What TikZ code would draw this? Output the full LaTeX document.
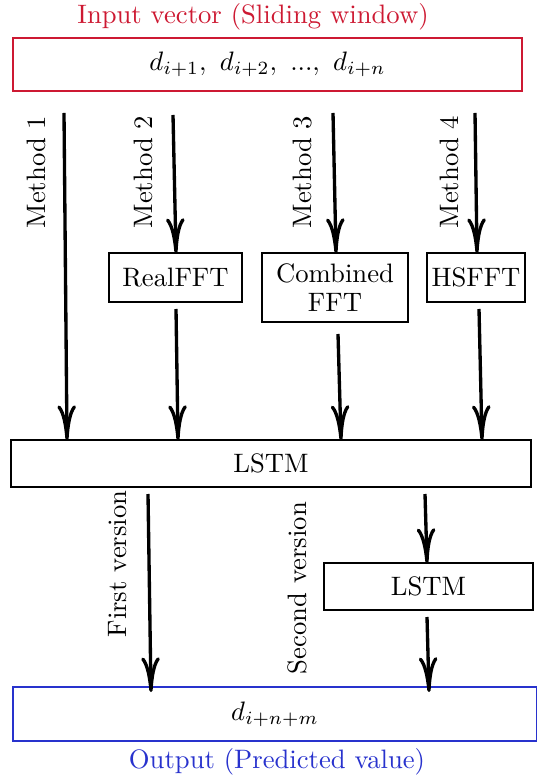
\documentclass[tikz,border=0pt]{standalone}
\usetikzlibrary{arrows.meta}
\definecolor{inred}{RGB}{205,25,50}
\definecolor{outblue}{RGB}{40,50,205}
\begin{document}
\begin{tikzpicture}[x=0.375pt,y=-0.375pt,
  box/.style={draw,line width=0.75pt,inner sep=0pt,outer sep=0pt,align=center},
  arr/.style={line width=1.25pt,-{Computer Modern Rightarrow[length=13pt,width=7pt,line width=1.25pt]}},
  lab/.style={rotate=90,inner sep=0pt}]
\useasboundingbox (0,0) rectangle (537,779);
% boxes
\node[box,draw=inred,minimum width=190.9pt,minimum height=19.9pt] (in) at (267.5,64.5) {$d_{i+1},\ d_{i+2},\ ...,\ d_{i+n}$};
\node[text=inred,inner sep=0pt] (inlab) at (253,17) {Input vector (Sliding window)};
\node[box,minimum width=49.9pt,minimum height=18.4pt] (real) at (175.5,277.5) {RealFFT};
\node[box,minimum width=54.75pt,minimum height=25.9pt] (comb) at (335,287.5) {Combined\\[-1pt]FFT};
\node[box,minimum width=36.75pt,minimum height=18.4pt] (hs) at (476,277.5) {HSFFT};
\node[box,minimum width=195pt,minimum height=17.6pt] (lstm) at (271,463.5) {LSTM};
\node[box,minimum width=78.4pt,minimum height=17.6pt] (lstm2) at (428.5,586.5) {LSTM};
\node[box,draw=outblue,minimum width=196.5pt,minimum height=20.25pt] (out) at (275,714) {$d_{i+n+m}$};
\node[text=outblue,inner sep=0pt] (outlab) at (277,762) {Output (Predicted value)};
% labels
\node[lab] (m1) at (36,172) {Method 1};
\node[lab] (m2) at (143,172) {Method 2};
\node[lab] (m3) at (303,172) {Method 3};
\node[lab] (m4) at (449,172) {Method 4};
\node[lab] (v1) at (118,564) {First version};
\node[lab] (v2) at (297,588) {Second version};
% coordinates
\coordinate (a1s) at (64,113);   \coordinate (a1e) at (67,440);
\coordinate (a2s) at (173,115);  \coordinate (a2e) at (176,253);
\coordinate (a3s) at (333,113);  \coordinate (a3e) at (336,253);
\coordinate (a4s) at (475,113);  \coordinate (a4e) at (477,253);
\coordinate (b2s) at (176,309);  \coordinate (b2e) at (178,440);
\coordinate (b3s) at (338,334);  \coordinate (b3e) at (341,440);
\coordinate (b4s) at (479,309);  \coordinate (b4e) at (482,440);
\coordinate (c1s) at (148,494);  \coordinate (c1e) at (151,692);
\coordinate (c2s) at (425,494);  \coordinate (c2e) at (427,563);
\coordinate (c3s) at (427,617);  \coordinate (c3e) at (429,692);
% arrows
\draw[arr] (a1s) -- (a1e);
\draw[arr] (a2s) -- (a2e);
\draw[arr] (a3s) -- (a3e);
\draw[arr] (a4s) -- (a4e);
\draw[arr] (b2s) -- (b2e);
\draw[arr] (b3s) -- (b3e);
\draw[arr] (b4s) -- (b4e);
\draw[arr] (c1s) -- (c1e);
\draw[arr] (c2s) -- (c2e);
\draw[arr] (c3s) -- (c3e);
\end{tikzpicture}
\end{document}
